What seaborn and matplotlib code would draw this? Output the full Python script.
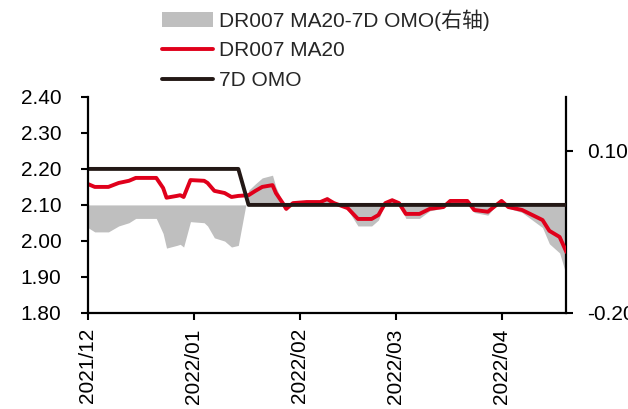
import pandas as pd
import numpy as np
import matplotlib
matplotlib.use("Agg")
import matplotlib.pyplot as plt
import matplotlib.dates as mdates
from matplotlib.patches import Patch
from matplotlib.lines import Line2D
import seaborn as sns

# values
dates = ['2021-12-01', '2021-12-03', '2021-12-07', '2021-12-10', '2021-12-13', '2021-12-15',
         '2021-12-17', '2021-12-21', '2021-12-23', '2021-12-24', '2021-12-27', '2021-12-28',
         '2021-12-29', '2021-12-31', '2022-01-04', '2022-01-05', '2022-01-07', '2022-01-10',
         '2022-01-12', '2022-01-14', '2022-01-17', '2022-01-18', '2022-01-19', '2022-01-21',
         '2022-01-24', '2022-01-25', '2022-01-27', '2022-01-28', '2022-01-30', '2022-02-03',
         '2022-02-07', '2022-02-09', '2022-02-11', '2022-02-15', '2022-02-18', '2022-02-22',
         '2022-02-24', '2022-02-26', '2022-02-28', '2022-03-02', '2022-03-04', '2022-03-08',
         '2022-03-11', '2022-03-15', '2022-03-17', '2022-03-22', '2022-03-24', '2022-03-28',
         '2022-04-01', '2022-04-03', '2022-04-07', '2022-04-10', '2022-04-13', '2022-04-15',
         '2022-04-18', '2022-04-20']
dr007_ma20 = [2.158, 2.150, 2.150, 2.161, 2.167, 2.175,
              2.175, 2.175, 2.147, 2.120, 2.125, 2.127,
              2.122, 2.169, 2.167, 2.161, 2.139, 2.133,
              2.122, 2.125, 2.127, 2.133, 2.139, 2.150,
              2.155, 2.133, 2.105, 2.089, 2.105, 2.108,
              2.108, 2.116, 2.105, 2.091, 2.061, 2.061,
              2.072, 2.105, 2.113, 2.105, 2.075, 2.075,
              2.089, 2.094, 2.111, 2.111, 2.086, 2.081,
              2.111, 2.094, 2.086, 2.072, 2.058, 2.028,
              2.011, 1.969]
omo_7d = [2.20, 2.20, 2.20, 2.20, 2.20, 2.20,
          2.20, 2.20, 2.20, 2.20, 2.20, 2.20,
          2.20, 2.20, 2.20, 2.20, 2.20, 2.20,
          2.20, 2.20, 2.10, 2.10, 2.10, 2.10,
          2.10, 2.10, 2.10, 2.10, 2.10, 2.10,
          2.10, 2.10, 2.10, 2.10, 2.10, 2.10,
          2.10, 2.10, 2.10, 2.10, 2.10, 2.10,
          2.10, 2.10, 2.10, 2.10, 2.10, 2.10,
          2.10, 2.10, 2.10, 2.10, 2.10, 2.10,
          2.10, 2.10]

df = pd.DataFrame({'date': pd.to_datetime(dates), 'dr007': dr007_ma20, 'omo': omo_7d})
df['spread'] = df['dr007'] - df['omo']

sns.set_style('ticks')
plt.rcParams['font.family'] = ['Liberation Sans', 'Noto Sans CJK SC', 'DejaVu Sans']

fig = plt.figure(figsize=(6.28, 4.09), dpi=100)
ax = fig.add_axes([0.140, 0.235, 0.762, 0.528])
ax2 = ax.twinx()

red = '#E0001B'
dark = '#231815'
grey = '#BFBFBF'

# spread on the right axis, behind the lines
ax2.fill_between(df['date'], df['spread'], 0, color=grey, linewidth=0)
ax.set_zorder(ax2.get_zorder() + 1)
ax.patch.set_visible(False)

sns.lineplot(data=df, x='date', y='dr007', ax=ax, color=red, linewidth=2.8)
sns.lineplot(data=df, x='date', y='omo', ax=ax, color=dark, linewidth=2.8)

ax.set_xlim(pd.Timestamp('2021-12-01'), pd.Timestamp('2022-04-20'))
ax.set_ylim(1.80, 2.40)
ax.set_yticks(np.arange(1.80, 2.401, 0.10))
ax.yaxis.set_major_formatter(plt.FormatStrFormatter('%.2f'))
ax2.set_ylim(-0.20, 0.20)
ax2.set_yticks([-0.20, 0.10])
ax2.yaxis.set_major_formatter(plt.FormatStrFormatter('%.2f'))

ax.xaxis.set_major_locator(mdates.MonthLocator())
ax.xaxis.set_major_formatter(mdates.DateFormatter('%Y/%m'))
ax.set_xlabel('')
ax.set_ylabel('')

for a in (ax, ax2):
    a.tick_params(labelsize=15, width=1.5, length=5, color='black', labelcolor='black')
    for s in a.spines.values():
        s.set_linewidth(1.6)
        s.set_color('black')
    a.spines['top'].set_visible(False)
ax.spines['right'].set_visible(False)
ax2.spines['left'].set_visible(False)
ax2.spines['bottom'].set_visible(False)
ax.tick_params(axis='y', pad=14)
ax2.tick_params(axis='y', pad=10)
ax.tick_params(axis='x', rotation=90, pad=6)

handles = [Patch(facecolor=grey, edgecolor='none'),
           Line2D([], [], color=red, linewidth=2.8),
           Line2D([], [], color=dark, linewidth=2.8)]
labels = ['DR007 MA20-7D OMO(右轴)', 'DR007 MA20', '7D OMO']
fig.legend(handles, labels, loc='upper left', bbox_to_anchor=(0.245, 0.997),
           frameon=False, fontsize=15, handlelength=2.45, handletextpad=0.3,
           labelspacing=0.5, borderaxespad=0)

plt.savefig('out.png', dpi=100)
